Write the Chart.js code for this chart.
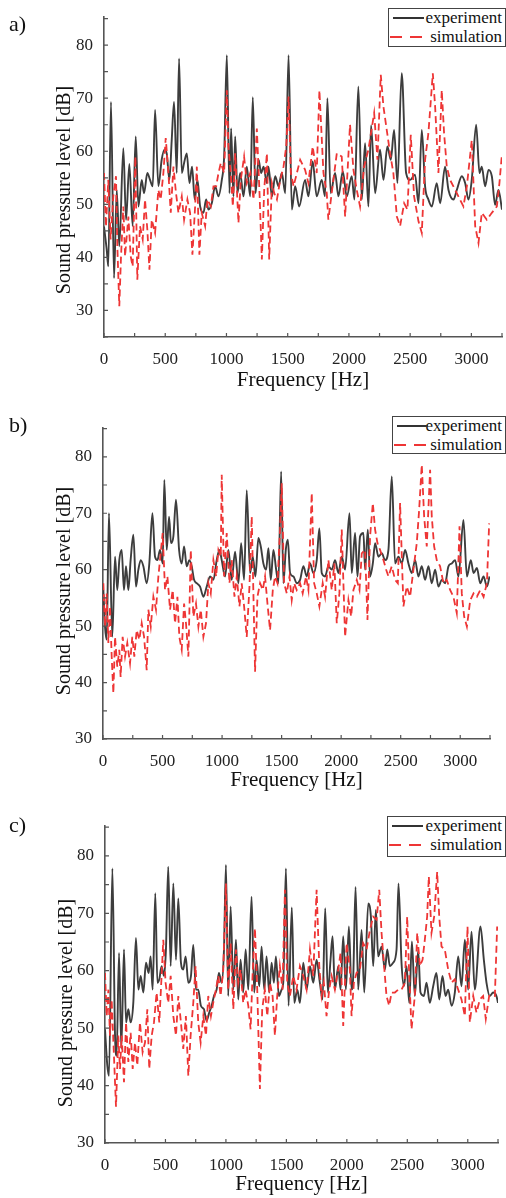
<!DOCTYPE html>
<html>
<head>
<meta charset="utf-8">
<script src="https://cdn.jsdelivr.net/npm/chart.js@4.4.1/dist/chart.umd.min.js"></script>
<style>
  body { margin: 0; background: #fff; }
  #page { position: relative; width: 506px; height: 1198px; overflow: hidden; font-family: "Liberation Serif", "DejaVu Serif", serif; color: #111; }
  canvas { position: absolute; left: 0; }
  .tag { position: absolute; left: 9px; font-size: 22px; line-height: 24px; }
  .ytitle { position: absolute; font-size: 20px; white-space: nowrap; transform: translate(-50%, -50%) rotate(-90deg); }
  .legend { position: absolute; border: 1px solid #444; background: #fff; font-size: 17px; box-sizing: border-box; }
  .legend .row { position: relative; height: 19px; line-height: 19px; text-align: right; padding-right: 3px; }
  .legend .row:first-child { margin-top: -1px; }
  .legend .solid { position: absolute; left: 4px; top: 9px; width: 31px; height: 2px; background: #333; }
  .legend .dash { position: absolute; left: 1px; top: 9px; width: 34px; height: 2px;
    background: repeating-linear-gradient(90deg, #ee3535 0 12px, transparent 12px 20px); }
</style>
</head>
<body>
<div id="page">
  <canvas id="chartA" width="506" height="398" style="top:0px"></canvas>
  <canvas id="chartB" width="506" height="400" style="top:398px"></canvas>
  <canvas id="chartC" width="506" height="400" style="top:798px"></canvas>

  <div class="tag" style="top:12px">a)</div>
  <div class="tag" style="top:413px">b)</div>
  <div class="tag" style="top:813px">c)</div>

  <div class="ytitle" style="left:63px;top:190px">Sound pressure level [dB]</div>
  <div class="ytitle" style="left:63px;top:591px">Sound pressure level [dB]</div>
  <div class="ytitle" style="left:65px;top:1003px">Sound pressure level [dB]</div>

  <div class="legend" style="left:388px;top:8px;width:118px;height:39px">
    <div class="row"><span class="solid"></span>experiment</div>
    <div class="row"><span class="dash"></span>simulation</div>
  </div>
  <div class="legend" style="left:392px;top:416px;width:114px;height:38px">
    <div class="row"><span class="solid"></span>experiment</div>
    <div class="row"><span class="dash"></span>simulation</div>
  </div>
  <div class="legend" style="left:387px;top:816px;width:119px;height:41px">
    <div class="row"><span class="solid"></span>experiment</div>
    <div class="row"><span class="dash"></span>simulation</div>
  </div>
</div>

<script>
// axis ticks
const freqTicks = [0, 500, 1000, 1500, 2000, 2500, 3000];
const dbTicks = [30, 40, 50, 60, 70, 80];

// a) [Hz, dB]
const expA = [[0,45.8],[22,41.5],[35,38.3],[57,69.3],[82,36.1],[104,52.7],[125,42.1],[158,60.6],[180,47.1],[207,57.6],
  [234,45.9],[259,62.8],[281,49.6],[308,54.6],[327,52.1],[354,55.9],[376,54.6],[398,53.4],[417,67.8],[444,53.4],
  [471,58.4],[493,60.3],[512,59.6],[534,54.6],[553,62.1],[572,69.3],[594,55.9],[613,77.5],[635,55.9],[654,57.8],
  [676,59.6],[698,54.0],[719,57.1],[741,50.9],[763,54.6],[785,49.6],[812,48.4],[834,50.9],[853,49.0],[880,50.2],
  [907,53.4],[935,51.5],[962,54.6],[981,59.0],[1003,78.1],[1025,52.1],[1038,64.3],[1057,51.5],[1071,62.8],[1090,52.1],
  [1112,55.9],[1139,51.5],[1166,57.1],[1194,51.5],[1215,70.2],[1237,52.1],[1262,58.4],[1283,55.9],[1303,57.1],[1330,54.0],
  [1343,57.1],[1371,51.5],[1398,55.3],[1425,53.4],[1452,55.9],[1480,52.1],[1507,78.1],[1534,49.0],[1561,53.4],[1594,49.6],
  [1642,54.6],[1669,51.5],[1704,58.1],[1737,51.5],[1778,54.6],[1805,51.5],[1824,70.0],[1851,52.1],[1887,55.9],[1914,51.5],
  [1950,56.2],[1982,51.5],[2023,55.3],[2045,50.9],[2077,72.2],[2105,50.9],[2132,61.5],[2159,49.6],[2181,64.9],[2214,52.1],
  [2254,60.3],[2282,54.6],[2314,60.9],[2342,58.4],[2369,64.0],[2396,54.0],[2431,74.7],[2467,55.9],[2500,54.6],[2540,55.6],
  [2568,50.2],[2595,64.0],[2622,53.4],[2649,50.9],[2677,49.6],[2717,54.0],[2745,50.2],[2785,57.1],[2813,52.7],[2854,50.9],
  [2881,52.7],[2922,55.3],[2949,54.0],[2976,50.9],[3003,54.6],[3039,65.0],[3066,55.9],[3085,57.1],[3112,53.4],[3140,56.5],
  [3167,55.3],[3194,49.9],[3221,52.7],[3250,49.0]];
const simA = [[0,55.9],[16,45.8],[35,54.6],[54,43.4],[76,51.5],[98,55.3],[109,42.1],[125,30.8],[139,40.2],[158,49.6],
  [172,40.2],[199,47.7],[218,40.2],[234,38.3],[256,59.0],[272,35.8],[294,45.9],[316,43.4],[335,50.9],[354,45.2],
  [371,37.7],[390,47.1],[417,44.6],[444,52.7],[463,50.9],[485,55.9],[504,62.5],[526,55.9],[545,48.4],[567,57.1],
  [588,52.1],[608,48.4],[635,51.5],[654,47.1],[681,50.9],[703,48.4],[722,40.5],[744,49.6],[758,57.1],[779,40.5],
  [798,48.4],[826,45.9],[845,50.9],[872,49.6],[894,53.4],[916,53.4],[935,55.9],[954,57.8],[981,55.9],[1003,71.5],
  [1016,60.9],[1035,55.9],[1052,49.6],[1071,59.6],[1098,46.5],[1117,54.6],[1144,59.0],[1166,54.0],[1194,55.9],[1221,50.9],
  [1248,64.3],[1270,52.1],[1289,39.6],[1308,52.7],[1330,59.6],[1349,39.6],[1371,54.0],[1390,52.1],[1412,50.9],[1439,54.6],
  [1466,57.1],[1488,60.9],[1507,70.3],[1526,55.9],[1548,53.4],[1575,55.9],[1602,58.4],[1642,56.5],[1669,54.0],[1704,60.9],
  [1737,55.9],[1759,71.5],[1792,55.9],[1819,52.1],[1832,47.1],[1873,54.6],[1901,59.6],[1941,59.0],[1969,47.7],[2009,65.0],
  [2037,56.5],[2064,52.7],[2091,49.6],[2124,57.1],[2159,60.3],[2206,67.2],[2233,58.4],[2260,74.4],[2282,68.4],[2309,64.0],
  [2336,59.6],[2363,55.9],[2391,47.7],[2418,45.9],[2451,50.2],[2478,49.0],[2505,63.1],[2532,51.5],[2568,46.8],[2595,44.6],
  [2622,58.4],[2649,63.4],[2685,74.7],[2704,68.4],[2731,55.9],[2758,71.5],[2777,63.4],[2799,57.1],[2826,54.6],[2881,52.1],
  [2935,49.6],[2963,53.4],[3003,62.1],[3031,45.9],[3058,42.7],[3085,48.4],[3126,47.1],[3167,48.4],[3208,49.6],[3229,54.0],
  [3250,59.6]];

// b)
const expB = [[3,56.4],[17,49.9],[31,47.6],[50,70.0],[78,48.1],[101,62.3],[120,56.4],[137,61.7],[157,63.5],[176,56.4],
  [193,60.6],[213,56.4],[232,61.7],[255,66.2],[277,57.0],[297,60.0],[317,61.7],[339,60.6],[367,57.6],[389,61.1],
  [415,70.0],[437,62.3],[457,61.7],[479,63.5],[501,61.1],[515,75.9],[535,63.5],[555,69.4],[571,64.7],[591,65.9],
  [613,72.4],[639,63.5],[661,61.1],[681,64.1],[703,60.6],[725,61.7],[745,60.6],[765,58.2],[787,57.6],[815,57.0],
  [843,55.2],[871,57.0],[899,58.8],[927,58.2],[955,61.7],[978,63.5],[997,61.7],[1025,58.8],[1053,63.5],[1081,58.2],
  [1109,63.2],[1137,57.6],[1160,64.7],[1185,58.2],[1207,74.1],[1235,59.4],[1258,62.3],[1280,58.8],[1305,65.6],[1325,64.1],
  [1347,61.1],[1370,60.0],[1389,63.8],[1409,58.2],[1431,63.5],[1454,60.0],[1473,57.6],[1496,77.4],[1515,57.6],[1535,63.5],
  [1552,65.3],[1571,59.4],[1599,58.8],[1627,57.6],[1655,58.2],[1683,60.6],[1711,58.8],[1739,61.1],[1767,59.4],[1795,61.7],
  [1817,67.3],[1837,59.4],[1865,58.8],[1893,60.6],[1921,60.0],[1949,61.7],[1977,59.4],[2005,62.3],[2033,60.0],[2070,70.0],
  [2089,59.4],[2117,66.5],[2137,58.8],[2159,65.9],[2187,66.5],[2201,60.0],[2224,67.1],[2243,58.8],[2266,61.1],[2285,64.7],
  [2313,62.3],[2341,62.9],[2369,61.7],[2397,63.5],[2425,76.5],[2453,61.1],[2481,62.3],[2509,61.1],[2537,63.5],[2565,61.1],
  [2593,59.4],[2621,61.7],[2649,58.8],[2677,60.6],[2705,58.2],[2733,60.6],[2761,57.6],[2789,60.0],[2817,57.0],[2845,58.2],
  [2873,57.6],[2901,60.6],[2929,61.1],[2957,61.7],[2985,58.8],[3027,68.8],[3056,58.8],[3089,61.7],[3112,59.4],[3140,60.3],
  [3168,57.6],[3196,58.8],[3224,57.0],[3246,58.8]];
const simB = [[3,57.6],[17,49.9],[31,55.8],[45,47.0],[59,53.5],[73,44.6],[87,38.1],[101,48.1],[120,42.8],[137,45.8],
  [148,41.0],[165,48.1],[185,44.6],[204,47.0],[227,43.4],[246,48.1],[263,44.6],[283,49.3],[305,47.6],[325,50.5],
  [345,48.1],[367,42.2],[381,52.9],[401,49.9],[423,55.2],[445,52.9],[465,58.8],[487,63.5],[501,66.5],[521,56.4],
  [541,58.8],[563,52.9],[585,56.4],[605,50.5],[625,55.2],[641,48.1],[661,45.8],[681,54.0],[697,50.5],[717,44.6],
  [737,63.5],[759,51.7],[781,54.0],[801,49.9],[821,52.9],[843,48.1],[865,50.5],[885,57.6],[905,55.8],[927,61.7],
  [950,58.8],[969,63.5],[989,62.3],[997,76.8],[1017,58.8],[1039,66.5],[1062,57.6],[1081,61.7],[1104,55.2],[1123,58.8],
  [1146,53.5],[1165,57.6],[1185,53.5],[1207,48.1],[1230,57.0],[1249,69.4],[1263,55.8],[1277,41.9],[1297,55.2],[1319,57.6],
  [1342,56.4],[1361,58.8],[1381,54.0],[1403,49.3],[1426,56.4],[1445,58.8],[1465,57.6],[1487,67.1],[1501,75.3],[1521,57.6],
  [1543,55.8],[1566,58.8],[1585,54.6],[1605,57.6],[1627,56.4],[1655,57.6],[1677,55.8],[1705,58.8],[1725,56.4],[1753,73.6],
  [1773,57.6],[1795,55.8],[1817,53.5],[1845,57.6],[1865,55.2],[1893,61.7],[1921,56.4],[1943,61.1],[1963,50.5],[1985,55.8],
  [2005,67.1],[2033,48.1],[2061,54.6],[2084,51.7],[2103,56.4],[2131,58.2],[2154,56.4],[2173,62.9],[2201,63.5],[2221,51.1],
  [2243,65.9],[2266,71.8],[2285,67.1],[2305,64.7],[2327,63.5],[2355,61.7],[2378,60.0],[2397,58.8],[2425,60.6],[2453,58.2],
  [2476,57.6],[2495,71.8],[2523,53.5],[2551,57.0],[2579,55.2],[2607,60.0],[2635,64.7],[2655,70.6],[2677,78.6],[2697,69.4],
  [2719,64.1],[2747,77.7],[2761,69.4],[2781,64.1],[2803,61.7],[2831,60.6],[2859,57.6],[2887,58.2],[2915,56.4],[2943,55.2],
  [2971,52.3],[2994,67.7],[3013,55.8],[3033,51.7],[3056,49.9],[3084,54.6],[3112,55.8],[3140,55.2],[3168,56.4],[3196,55.2],
  [3224,57.6],[3243,68.2]];

// c)
const expC = [[0,49.8],[19,43.5],[33,41.7],[61,77.8],[83,48.7],[96,45.2],[116,63.1],[135,46.4],[157,63.7],[174,51.0],
  [193,53.3],[212,51.0],[234,54.4],[256,65.7],[276,56.7],[295,59.1],[317,56.2],[339,61.4],[361,59.6],[377,62.5],
  [394,56.7],[416,73.5],[433,57.9],[449,58.5],[468,60.8],[488,59.1],[504,63.7],[523,78.1],[543,60.8],[565,75.2],
  [587,61.9],[606,72.6],[628,61.4],[647,60.2],[667,62.5],[689,57.9],[711,59.1],[730,64.5],[752,56.7],[771,56.7],
  [793,53.9],[818,53.3],[840,51.3],[862,52.7],[882,53.9],[901,55.6],[923,56.7],[942,59.6],[964,57.9],[984,63.7],
  [1000,78.4],[1019,55.6],[1039,71.2],[1061,56.7],[1083,65.4],[1102,55.0],[1121,61.9],[1143,56.2],[1163,63.7],[1185,56.7],
  [1212,72.9],[1234,56.2],[1253,61.9],[1276,57.3],[1295,64.2],[1317,56.7],[1336,62.5],[1358,56.2],[1378,61.4],[1397,57.9],
  [1413,62.5],[1438,55.6],[1460,56.7],[1474,57.9],[1496,77.8],[1518,53.9],[1545,71.0],[1565,54.4],[1590,56.7],[1612,54.4],
  [1640,61.4],[1667,56.7],[1695,60.8],[1722,57.9],[1750,61.9],[1777,57.9],[1799,55.0],[1821,70.9],[1843,56.2],[1865,61.9],
  [1882,66.0],[1901,56.7],[1929,60.8],[1948,56.7],[1970,66.0],[1992,56.7],[2017,67.7],[2039,56.7],[2053,59.1],[2072,74.6],
  [2094,56.7],[2122,67.1],[2144,56.2],[2177,71.7],[2199,69.4],[2218,60.8],[2240,70.6],[2259,62.5],[2287,64.2],[2315,60.2],
  [2334,63.7],[2356,60.8],[2383,61.4],[2411,63.7],[2427,75.2],[2452,61.4],[2472,57.3],[2494,60.8],[2516,54.4],[2538,65.1],
  [2562,55.6],[2590,63.5],[2609,56.2],[2637,55.6],[2659,57.9],[2686,54.4],[2714,57.3],[2741,59.6],[2764,55.0],[2791,59.1],
  [2816,55.6],[2838,56.7],[2866,53.9],[2893,56.2],[2921,62.5],[2948,57.3],[2976,65.4],[3003,56.7],[3031,66.8],[3058,56.7],
  [3105,67.7],[3133,61.9],[3155,57.9],[3182,55.6],[3210,56.2],[3237,55.6],[3250,54.4]];
const simC = [[0,59.6],[14,52.1],[28,56.7],[41,48.7],[55,55.0],[74,45.2],[91,36.3],[110,48.7],[124,42.9],[138,48.7],
  [157,40.6],[174,51.0],[193,44.1],[212,49.2],[229,42.9],[248,47.5],[267,43.5],[289,51.0],[311,45.8],[331,47.5],
  [350,53.3],[366,42.9],[386,48.7],[405,51.0],[427,56.2],[449,51.0],[468,59.1],[482,65.4],[501,57.9],[523,54.4],
  [543,59.1],[565,52.1],[587,48.7],[606,55.6],[628,51.0],[647,46.4],[669,52.1],[689,41.7],[708,48.7],[730,54.4],
  [749,60.8],[771,51.0],[791,47.5],[813,52.1],[835,48.7],[854,55.6],[876,52.1],[895,54.4],[917,56.7],[937,59.1],
  [956,55.6],[978,60.2],[1000,75.2],[1019,56.7],[1039,64.8],[1061,53.3],[1083,63.7],[1102,57.9],[1121,60.2],[1143,54.4],
  [1163,56.7],[1185,53.9],[1204,49.8],[1220,59.1],[1240,67.4],[1259,56.7],[1281,39.4],[1300,53.3],[1322,56.7],[1342,52.1],
  [1364,57.9],[1386,55.6],[1405,48.7],[1424,55.6],[1446,60.8],[1468,56.7],[1488,74.1],[1507,57.9],[1529,55.6],[1557,59.1],
  [1584,56.7],[1612,60.8],[1640,59.1],[1667,56.7],[1695,63.7],[1722,59.1],[1750,74.1],[1772,60.8],[1791,55.6],[1810,57.9],
  [1832,52.1],[1854,56.7],[1874,59.1],[1901,56.7],[1929,60.2],[1948,63.1],[1970,50.4],[1998,64.8],[2025,60.2],[2039,52.1],
  [2058,57.9],[2080,59.6],[2108,60.2],[2135,64.8],[2163,63.7],[2191,67.1],[2218,69.4],[2246,68.9],[2268,74.1],[2287,66.6],
  [2306,61.4],[2328,55.6],[2350,53.9],[2370,56.2],[2397,56.2],[2425,56.7],[2452,56.7],[2480,57.9],[2499,69.4],[2516,59.1],
  [2535,49.8],[2562,55.6],[2582,66.6],[2604,60.8],[2626,61.9],[2645,65.4],[2664,69.4],[2678,76.4],[2700,66.6],[2722,69.4],
  [2747,77.2],[2764,69.4],[2783,64.2],[2810,63.7],[2838,60.2],[2866,57.9],[2893,58.5],[2921,56.7],[2948,55.0],[2976,52.1],
  [2998,67.7],[3017,51.0],[3045,55.6],[3072,52.7],[3100,55.0],[3127,55.6],[3149,51.6],[3177,55.6],[3204,55.6],[3224,55.6],
  [3243,67.7]];

const serif = '"Liberation Serif", "DejaVu Serif", serif';

// small ticks pointing into the plot (every 250 Hz and every 5 dB)
const innerTicks = {
  id: 'innerTicks',
  afterDraw(chart) {
    const { ctx, chartArea: ca, scales: { x, y } } = chart;
    ctx.save();
    ctx.strokeStyle = '#555';
    ctx.lineWidth = 1.2;
    ctx.beginPath();
    for (let f = 0; f <= x.max; f += 250) {
      const px = x.getPixelForValue(f);
      ctx.moveTo(px, ca.bottom);
      ctx.lineTo(px, ca.bottom - 4);
    }
    for (let d = Math.ceil(y.min / 5) * 5; d <= y.max; d += 5) {
      const py = y.getPixelForValue(d);
      ctx.moveTo(ca.left, py);
      ctx.lineTo(ca.left + 4, py);
    }
    ctx.stroke();
    ctx.restore();
  }
};

function toXY(pairs) {
  return pairs.map(p => ({ x: p[0], y: p[1] }));
}

function makePanel(id, exp, sim, o) {
  const ctx = document.getElementById(id).getContext('2d');
  return new Chart(ctx, {
    type: 'line',
    data: {
      datasets: [{
        label: 'simulation',
        data: toXY(sim),
        borderColor: '#ee3535',
        borderWidth: 1.8,
        borderDash: [7, 4],
        pointRadius: 0,
        fill: false,
        tension: 0,
        order: 0
      }, {
        label: 'experiment',
        data: toXY(exp),
        borderColor: '#3d3d3d',
        borderWidth: 1.9,
        pointRadius: 0,
        fill: false,
        cubicInterpolationMode: 'monotone',
        order: 1
      }]
    },
    options: {
      responsive: false,
      animation: false,
      devicePixelRatio: 1,
      events: [],
      layout: { padding: { top: o.top, right: o.right, left: 0, bottom: 0 } },
      plugins: { legend: { display: false }, tooltip: { enabled: false } },
      scales: {
        x: {
          type: 'linear',
          min: 0,
          max: 3250,
          afterBuildTicks: s => { s.ticks = freqTicks.map(v => ({ value: v })); },
          afterFit: s => { s.height = o.xHeight; },
          grid: { display: false },
          border: { display: true, color: '#555', width: 1.6 },
          ticks: { color: '#222', font: { family: serif, size: 17 }, padding: 4, maxRotation: 0, autoSkip: false, callback: v => String(v) },
          title: { display: true, text: 'Frequency [Hz]', color: '#111', font: { family: serif, size: 21 }, padding: { top: 0, bottom: o.titlePad } }
        },
        y: {
          type: 'linear',
          min: o.yMin,
          max: o.yMax,
          afterBuildTicks: s => { s.ticks = dbTicks.map(v => ({ value: v })); },
          afterFit: s => { s.width = o.yWidth; },
          grid: { display: false },
          border: { display: true, color: '#555', width: 1.6 },
          ticks: { color: '#222', font: { family: serif, size: 17 }, padding: 3, callback: v => String(v) }
        }
      }
    },
    plugins: [innerTicks]
  });
}

makePanel('chartA', expA, simA, { top: 17, right: 4, xHeight: 61, titlePad: 5, yMin: 25, yMax: 85.3, yWidth: 104 });
makePanel('chartB', expB, simB, { top: 30, right: 16, xHeight: 59, titlePad: 5, yMin: 30, yMax: 85.1, yWidth: 103 });
makePanel('chartC', expC, simC, { top: 28, right: 8, xHeight: 55, titlePad: 1, yMin: 30, yMax: 85.2, yWidth: 105 });
</script>
</body>
</html>
